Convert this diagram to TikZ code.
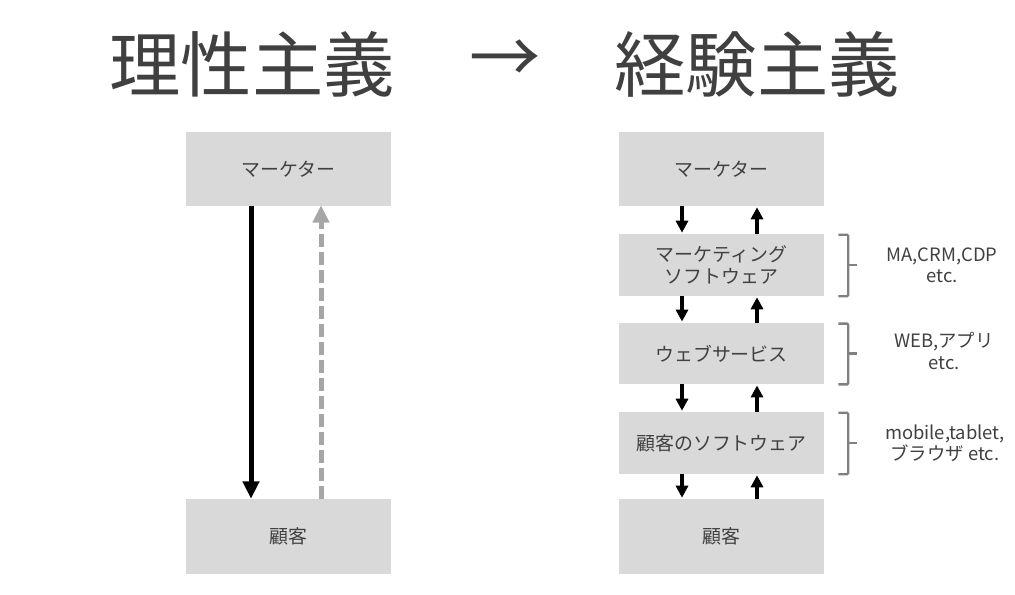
\documentclass[tikz,border=0pt]{standalone}
\usepackage{fontspec}
\setmainfont{Noto Sans CJK JP}
\usetikzlibrary{arrows.meta,calc}
\definecolor{boxgray}{HTML}{D9D9D9}
\definecolor{txtgray}{HTML}{404040}
\definecolor{dashgray}{HTML}{A6A6A6}
\definecolor{brgray}{HTML}{808080}
\tikzset{
  box/.style={fill=boxgray, draw=none, minimum width=153.75pt, inner sep=0pt, text=txtgray, font=\fontsize{14.2pt}{16.5pt}\selectfont, align=center},
  title/.style={text=txtgray, font=\fontsize{53.5pt}{60pt}\selectfont, inner sep=0pt},
  note/.style={text=txtgray, font=\fontsize{13.8pt}{16pt}\selectfont, align=center, inner sep=0pt},
  bigarr/.style={line width=3.75pt, -{Triangle[width=12pt,length=13pt]}},
  dasharr/.style={line width=3.75pt, dashgray, dash pattern=on 9.5pt off 4pt, -{Triangle[width=12pt,length=13pt]}},
  smallarr/.style={line width=3pt, -{Triangle[width=9pt,length=9pt]}},
  bracket/.style={draw=brgray, line width=1.8pt, rounded corners=1pt}
}
\begin{document}
\begin{tikzpicture}[x=0.75pt,y=-0.75pt]
\useasboundingbox (0,0) rectangle (1015,595);
% titles
\node[title] (t1) at (252,64) {理性主義};
\node[title] (tarr) at (505,62) {→};
\node[title] (t2) at (757,64) {経験主義};
% left column
\node[box, minimum height=55.5pt] (lm) at (288.5,169) {マーケター};
\node[box, minimum height=56.25pt] (lc) at (288.5,536.5) {顧客};
\draw[bigarr] ($(lm.south)+(-37.5,0)$) -- ($(lc.north)+(-37.5,0)$);
\draw[dasharr] ($(lc.north)+(32.5,0)$) -- ($(lm.south)+(32.5,-1)$);
% right column
\node[box, minimum height=55.5pt] (rm) at (721.5,169) {マーケター};
\node[box, minimum height=46.5pt] (ms) at (721.5,265) {マーケティング\\ソフトウェア};
\node[box, minimum height=46pt] (ws) at (721.5,353.5) {ウェブサービス};
\node[box, minimum height=46.5pt] (cs) at (721.5,443) {顧客のソフトウェア};
\node[box, minimum height=56.25pt] (rc) at (721.5,536.5) {顧客};
\foreach \a/\b in {rm/ms, ms/ws, ws/cs, cs/rc}{
  \draw[smallarr] ($(\a.south)+(-39.5,0)$) -- ($(\b.north)+(-39.5,-1)$);
  \draw[smallarr] ($(\b.north)+(35.5,0)$) -- ($(\a.south)+(35.5,1)$);
}
% brackets
\foreach \n in {ms, ws, cs}{
  \draw[bracket] ($(\n.north east)+(14,1)$) -- ($(\n.north east)+(24,1)$) -- ($(\n.south east)+(24,0)$) -- ($(\n.south east)+(14,0)$);
  \draw[bracket] ($(\n.east)+(24,0)$) -- ($(\n.east)+(33,0)$);
}
% notes
\node[note] (n1) at (942,265) {MA,CRM,CDP\\etc.};
\node[note] (n2) at (944,351) {WEB,アプリ\\etc.};
\node[note] (n3) at (945,443) {mobile,tablet,\\ブラウザ etc.};
\end{tikzpicture}
\end{document}
